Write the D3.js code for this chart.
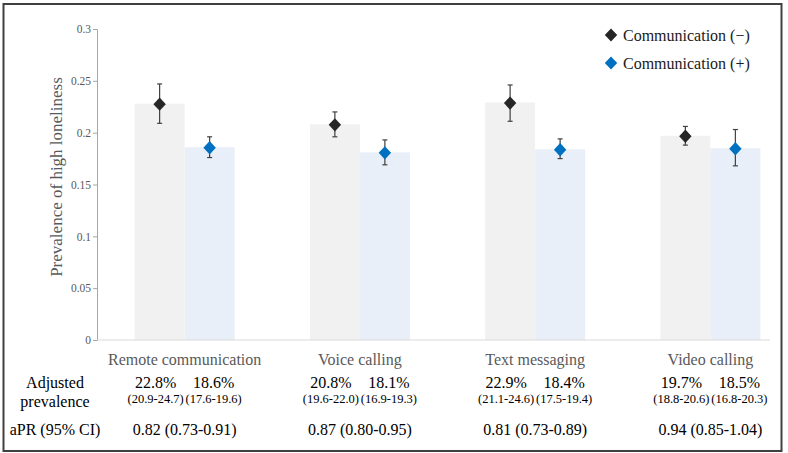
<!DOCTYPE html>
<html>
<head>
<meta charset="utf-8">
<script src="https://cdn.jsdelivr.net/npm/d3@7"></script>
<style>
  html, body { margin: 0; padding: 0; background: #fff; }
  svg { display: block; }
  svg text { font-family: "Liberation Serif", "Times New Roman", Times, serif !important; }
</style>
</head>
<body>
<svg id="chart" width="788" height="453"></svg>
<script>
// ---- data ----
const categories = ["Remote communication", "Voice calling", "Text messaging", "Video calling"];
const seriesNames = ["Communication (−)", "Communication (+)"];
const prevNeg = [0.228, 0.208, 0.229, 0.197];
const prevPos = [0.186, 0.181, 0.184, 0.185];
const ciNegLow = [0.209, 0.196, 0.211, 0.188];
const ciNegHigh = [0.247, 0.220, 0.246, 0.206];
const ciPosLow = [0.176, 0.169, 0.175, 0.168];
const ciPosHigh = [0.196, 0.193, 0.194, 0.203];
const pctNegLabels = ["22.8%", "20.8%", "22.9%", "19.7%"];
const pctPosLabels = ["18.6%", "18.1%", "18.4%", "18.5%"];
const ciNegLabels = ["(20.9-24.7)", "(19.6-22.0)", "(21.1-24.6)", "(18.8-20.6)"];
const ciPosLabels = ["(17.6-19.6)", "(16.9-19.3)", "(17.5-19.4)", "(16.8-20.3)"];
const aprLabels = ["0.82 (0.73-0.91)", "0.87 (0.80-0.95)", "0.81 (0.73-0.89)", "0.94 (0.85-1.04)"];
const yTickValues = [0, 0.05, 0.1, 0.15, 0.2, 0.25, 0.3];
const yTickLabels = ["0", "0.05", "0.1", "0.15", "0.2", "0.25", "0.3"];

const series = [
  { name: seriesNames[0], prev: prevNeg, lo: ciNegLow, hi: ciNegHigh, bar: "#F1F1F1", mark: "#262626" },
  { name: seriesNames[1], prev: prevPos, lo: ciPosLow, hi: ciPosHigh, bar: "#E9EFF8", mark: "#0070C0" }
];

const FONT = "Liberation Serif, Times New Roman, serif";

// ---- layout ----
const svg = d3.select("#chart").attr("font-family", FONT);
const x0 = d3.scaleBand().domain(categories).range([97, 798]).paddingInner(0).paddingOuter(0);
const x1 = d3.scaleBand().domain(seriesNames).range([0, x0.bandwidth()]).paddingInner(0).paddingOuter(0.7525);
const y = d3.scaleLinear().domain([0, 0.3]).range([340, 29]);
const axisRight = 770;

// outer border
svg.append("rect").attr("x", 3.5).attr("y", 4).attr("width", 778).attr("height", 447)
  .attr("fill", "none").attr("stroke", "#404040").attr("stroke-width", 2);

// bars
series.forEach(s => {
  svg.append("g").selectAll("rect").data(categories).join("rect")
    .attr("x", (c) => x0(c) + x1(s.name))
    .attr("width", x1.bandwidth())
    .attr("y", (c, i) => y(s.prev[i]))
    .attr("height", (c, i) => y(0) - y(s.prev[i]))
    .attr("fill", s.bar);
});

// y axis
const yAxis = d3.axisLeft(y).tickValues(yTickValues).tickSize(4).tickFormat((d, i) => yTickLabels[i]);
const gy = svg.append("g").attr("transform", "translate(97,0)").call(yAxis).attr("font-family", FONT);
gy.select(".domain").attr("stroke", "#A6A6A6");
gy.selectAll(".tick line").attr("stroke", "#A6A6A6");
gy.selectAll(".tick text").attr("fill", "#595959").attr("font-size", 11.5).attr("x", -6);

// x axis line
svg.append("line").attr("x1", 97).attr("x2", axisRight).attr("y1", y(0)).attr("y2", y(0))
  .attr("stroke", "#D9D9D9").attr("stroke-width", 1);

// y title
svg.append("text")
  .attr("transform", "translate(62,177) rotate(-90)")
  .attr("text-anchor", "middle").attr("font-size", 17).attr("fill", "#595959")
  .text("Prevalence of high loneliness");

// error bars and diamonds
const diamond = (r, h) => `M0,${-h}L${r},0L0,${h}L${-r},0Z`;
series.forEach(s => {
  const g = svg.append("g");
  categories.forEach((c, i) => {
    const cx = x0(c) + x1(s.name) + x1.bandwidth() / 2;
    g.append("line").attr("x1", cx).attr("x2", cx).attr("y1", y(s.lo[i])).attr("y2", y(s.hi[i]))
      .attr("stroke", "#404040").attr("stroke-width", 1.2);
    [s.lo[i], s.hi[i]].forEach(v => {
      g.append("line").attr("x1", cx - 2.5).attr("x2", cx + 2.5).attr("y1", y(v)).attr("y2", y(v))
        .attr("stroke", "#404040").attr("stroke-width", 1.2);
    });
    g.append("path").attr("d", diamond(6.2, 6.7)).attr("transform", `translate(${cx},${y(s.prev[i]) + 0.5})`)
      .attr("fill", s.mark);
  });
});

// legend
series.forEach((s, i) => {
  const ly = 35 + i * 28;
  svg.append("path").attr("d", diamond(6.2, 6.5)).attr("transform", `translate(611,${ly})`).attr("fill", s.mark);
  svg.append("text").attr("x", 623).attr("y", ly + 5.5).attr("font-size", 16).attr("fill", "#1a1a1a").text(s.name);
});

// category labels
svg.append("g").selectAll("text").data(categories).join("text")
  .attr("x", c => x0(c) + x0.bandwidth() / 2).attr("y", 365)
  .attr("text-anchor", "middle").attr("font-size", 16).attr("fill", "#595959")
  .text(c => c);

// table rows
const rowLabel = svg.append("g").attr("font-size", 16).attr("fill", "#000").attr("text-anchor", "middle");
rowLabel.append("text").attr("x", 55).attr("y", 388).text("Adjusted");
rowLabel.append("text").attr("x", 55).attr("y", 407).text("prevalence");
rowLabel.append("text").attr("x", 55).attr("y", 435).text("aPR (95% CI)");

const tbl = svg.append("g").attr("fill", "#000").attr("text-anchor", "middle");
categories.forEach((c, i) => {
  const cx = x0(c) + x0.bandwidth() / 2;
  tbl.append("text").attr("x", cx - 29).attr("y", 388).attr("font-size", 16).text(pctNegLabels[i]);
  tbl.append("text").attr("x", cx + 29).attr("y", 388).attr("font-size", 16).text(pctPosLabels[i]);
  tbl.append("text").attr("x", cx - 29).attr("y", 403).attr("font-size", 12.5).text(ciNegLabels[i]);
  tbl.append("text").attr("x", cx + 29).attr("y", 403).attr("font-size", 12.5).text(ciPosLabels[i]);
  tbl.append("text").attr("x", cx).attr("y", 435).attr("font-size", 16).text(aprLabels[i]);
});
</script>
</body>
</html>
